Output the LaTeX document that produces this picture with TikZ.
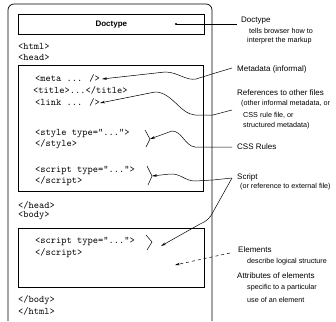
\documentclass[tikz,border=0pt]{standalone}
\usepackage{fontspec}
\newfontfamily\labfont{Liberation Sans}
\usetikzlibrary{arrows.meta}
\begin{document}
\begin{tikzpicture}[x=1pt,y=-1pt,
  code/.style={font=\ttfamily\fontsize{10}{12}\selectfont, anchor=west, inner sep=0pt},
  lbl/.style={font=\labfont\fontsize{8}{9}\selectfont, anchor=west, inner sep=0pt},
  sublbl/.style={font=\labfont\fontsize{7.2}{8}\selectfont, anchor=west, inner sep=0pt},
  conn/.style={draw, line width=0.5pt},
  arr/.style={conn, -{Stealth[length=5pt,width=2.6pt]}},
  boxline/.style={draw, line width=0.7pt},
  brace/.style={draw, line width=0.5pt}
]
\useasboundingbox (0,0) rectangle (336,321);
% page outline
\draw[boxline, rounded corners=6pt] (8,321) -- (8,4) -- (212,4) -- (212,321);
% boxes
\node[boxline, minimum width=186pt, minimum height=20pt, inner sep=0pt, anchor=north west,
      font=\labfont\bfseries\fontsize{8}{9}\selectfont] (doct) at (18,14) {Doctype};
\draw[boxline] (18,65) rectangle (203,191);
\draw[boxline] (18,228) rectangle (204,287);
% code
\node[code] (html) at (18,46) {<html>};
\node[code] (head) at (18,57) {<head>};
\node[code] (meta) at (35,78) {<meta ... />};
\node[code] (title) at (33,90) {<title>...</title>};
\node[code] (link) at (35,102) {<link ... />};
\node[code] (style) at (35,134) {<style type="...">};
\node[code] (estyle) at (35,144) {</style>};
\node[code] (script) at (35,171) {<script type="...">};
\node[code] (escript) at (35,181) {</script>};
\node[code] (ehead) at (18,205) {</head>};
\node[code] (body) at (18,216) {<body>};
\node[code] (bscript) at (35,242) {<script type="...">};
\node[code] (ebscript) at (35,253) {</script>};
\node[code] (ebody) at (18,300) {</body>};
\node[code] (ehtml) at (18,311) {</html>};
% labels
\node[lbl] (ldoct) at (241,21) {Doctype};
\node[sublbl] (ldoct2) at (249,31) {tells browser how to};
\node[sublbl] (ldoct3) at (247,41) {interpret the markup};
\node[lbl] (lmeta) at (237,69) {Metadata (informal)};
\node[lbl] (lref) at (237,93) {References to other files};
\node[sublbl] (lref2) at (241,104) {(other informal metadata, or};
\node[sublbl] (lref3) at (243,115) {CSS rule file, or};
\node[sublbl] (lref4) at (243,126) {structured metadata)};
\node[lbl] (lcss) at (237,147) {CSS Rules};
\node[lbl] (lscript) at (237,177) {Script};
\node[sublbl] (lscript2) at (240,187) {(or reference to external file)};
\node[lbl] (lel) at (238,250) {Elements};
\node[sublbl] (lel2) at (247,262) {describe logical structure};
\node[lbl] (lattr) at (237,276) {Attributes of elements};
\node[sublbl] (lattr2) at (247,288) {specific to a particular};
\node[sublbl] (lattr3) at (247,300) {use of an element};
% coordinates
\coordinate (ddot) at (176,24);
\coordinate (dend) at (237,24);
\coordinate (mstart) at (232,68);
\coordinate (mtip) at (102,79);
\coordinate (rstart) at (232,110);
\coordinate (rtip) at (100,103);
\coordinate (cstart) at (232,147);
\coordinate (sstart) at (232,178);
\coordinate (estart) at (230,253);
\coordinate (etip) at (175,265);
% braces
\coordinate (b1a) at (145,130); \coordinate (b1v) at (150,139); \coordinate (b1b) at (146,147);
\coordinate (b2a) at (147,166); \coordinate (b2v) at (152,176); \coordinate (b2b) at (148,185);
\coordinate (b3a) at (146,235); \coordinate (b3v) at (152,242); \coordinate (b3b) at (147,250);
\draw[brace] (b1a) -- (b1v) -- (b1b);
\draw[brace] (b2a) -- (b2v) -- (b2b);
\draw[brace] (b3a) -- (b3v) -- (b3b);
\coordinate (b3tip) at (161,246);
% connectors
\fill (ddot) circle (1.1pt);
\draw[conn] (ddot) -- (dend);
\draw[arr] (mstart) -- (212,74) -- (196,79) .. controls (186,81) and (178,72) .. (165,72) -- (mtip);
\draw[arr] (rstart) -- (213,115) -- (195,115) .. controls (180,114) and (172,92) .. (155,92) -- (rtip);
\draw[arr] (cstart) -- (213,147) -- (195,147) .. controls (185,146) and (182,131) .. (172,131) -- (b1v);
\draw[arr] (sstart) -- (213,180) -- (195,181) .. controls (185,181) and (180,173) .. (170,174) -- (b2v);
\draw[arr] (sstart) -- (213,212) .. controls (210,218) and (207,221) .. (200,224) -- (b3tip);
\draw[arr, dashed] (estart) -- (etip);
\end{tikzpicture}
\end{document}
